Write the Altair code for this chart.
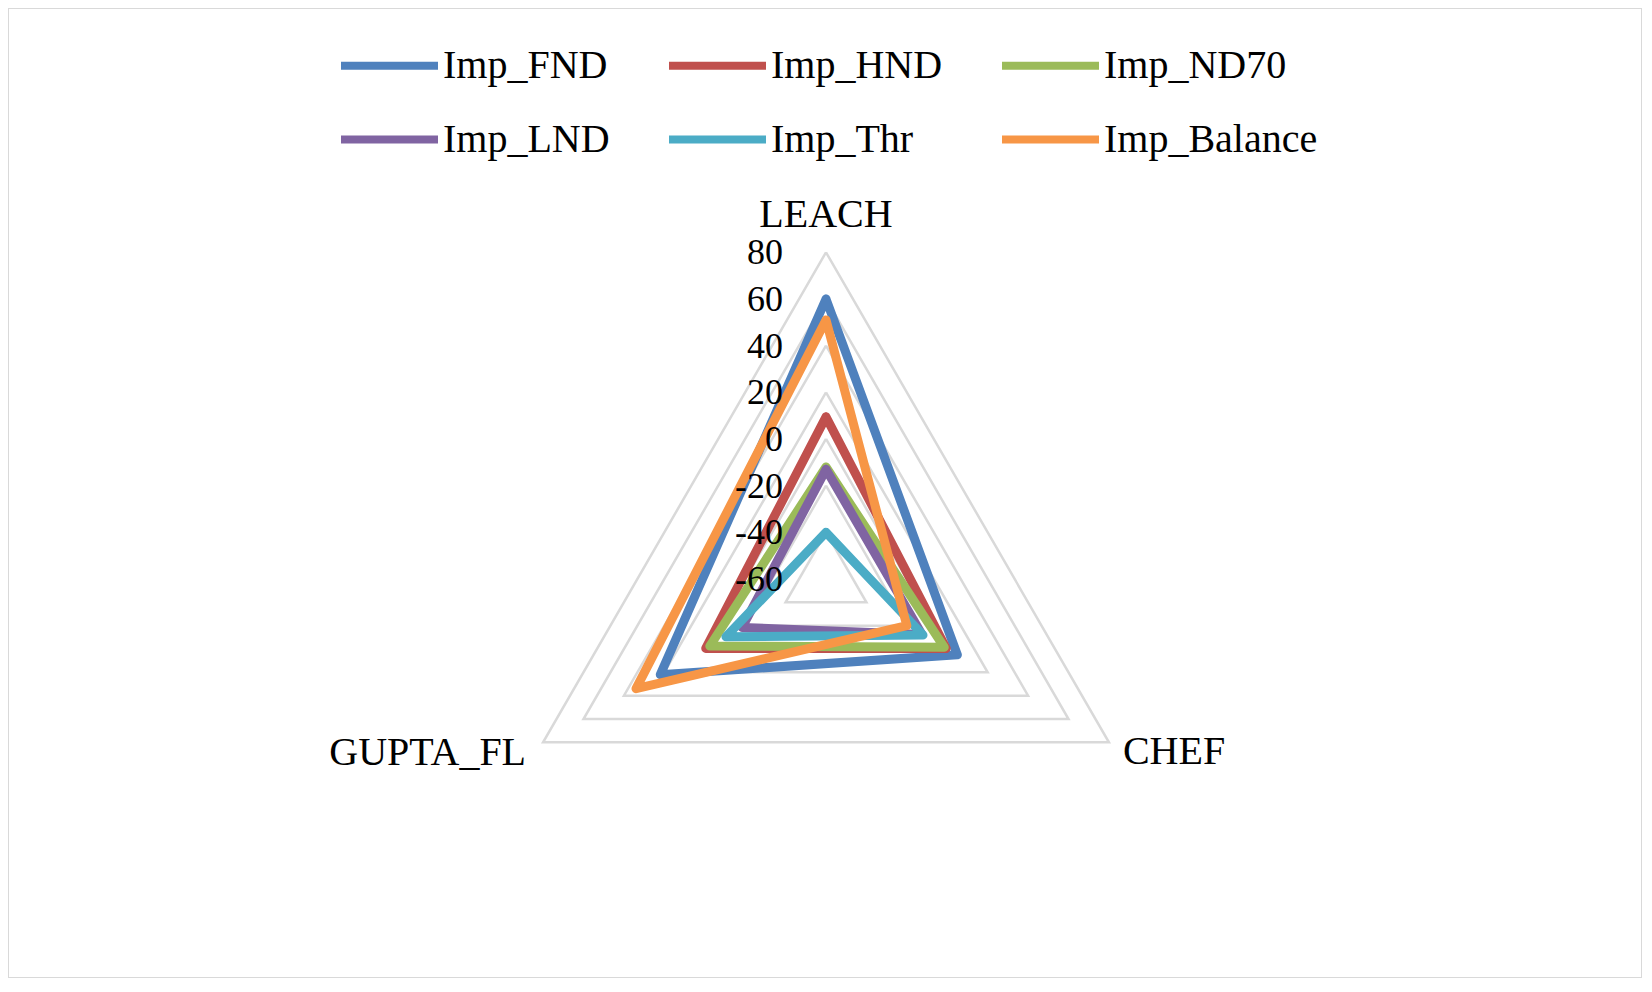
import math

import altair as alt
import pandas as pd

# radar axes, going round from the top
categories = ["LEACH", "CHEF", "GUPTA_FL"]
cat_angles = [90, -30, 210]

series = ["Imp_FND", "Imp_HND", "Imp_ND70", "Imp_LND", "Imp_Thr", "Imp_Balance"]
colors = ["#4F81BD", "#C0504D", "#9BBB59", "#8064A2", "#4BACC6", "#F79646"]

# values per axis: LEACH, CHEF, GUPTA_FL
imp_fnd = [60, 5, 22]
imp_hnd = [9.5, -0.5, -0.5]
imp_nd70 = [-12, -1.5, -2.5]
imp_lnd = [-13, -12.5, -18.5]
imp_thr = [-40, -12, -10.5]
imp_balance = [51, -20, 34]
values = [imp_fnd, imp_hnd, imp_nd70, imp_lnd, imp_thr, imp_balance]

tick_values = [-60, -40, -20, 0, 20, 40, 60, 80]
axis_min = -60
grid_levels = tick_values[1:]

FONT = "Times New Roman, Liberation Serif, serif"

# page layout (chart px), one data unit = PX px in both directions
W, H = 1634, 970
CX, CY = 818, 571
PX = 326.7 / (tick_values[-1] - axis_min)


def polar(v, angle):
    r = v - axis_min
    a = math.radians(angle)
    return r * math.cos(a), r * math.sin(a)


# closed polygons for the series
rows = []
for name, vals in zip(series, values):
    for i in range(len(categories) + 1):
        j = i % len(categories)
        x, y = polar(vals[j], cat_angles[j])
        rows.append({"series": name, "idx": i, "x": x, "y": y})
lines_df = pd.DataFrame(rows)

# grid triangles
grid_rows = []
for lev in grid_levels:
    for i in range(len(categories) + 1):
        j = i % len(categories)
        x, y = polar(lev, cat_angles[j])
        grid_rows.append({"level": lev, "idx": i, "x": x, "y": y})
grid_df = pd.DataFrame(grid_rows)

ticks_df = pd.DataFrame({"label": [str(t) for t in tick_values],
                         "x": [0.0] * len(tick_values),
                         "y": [t - axis_min for t in tick_values]})

cat_rows = []
for c, a in zip(categories, cat_angles):
    x, y = polar(tick_values[-1], a)
    cat_rows.append({"cat": c, "x": x, "y": y})
cats_df = pd.DataFrame(cat_rows)

xs = alt.Scale(domain=[-CX / PX, (W - CX) / PX])
ys = alt.Scale(domain=[-(H - CY) / PX, CY / PX])
X = alt.X("x:Q", scale=xs, axis=None)
Y = alt.Y("y:Q", scale=ys, axis=None)

grid = alt.Chart(grid_df).mark_line(color="#D9D9D9", strokeWidth=2.5).encode(
    X, Y, detail="level:N", order="idx:Q"
)

color = alt.Color(
    "series:N",
    scale=alt.Scale(domain=series, range=colors),
    title=None,
    legend=alt.Legend(
        orient="none", legendX=329, legendY=5, direction="horizontal",
        columns=3, symbolType="stroke", symbolSize=9409, symbolStrokeWidth=8,
        labelFont=FONT, labelFontSize=40, labelColor="black", labelOffset=1,
        labelLimit=0, columnPadding=43, rowPadding=1, padding=0,
    ),
)

series_layers = []
for name in series:
    series_layers.append(
        alt.Chart(lines_df).transform_filter(alt.datum.series == name)
        .mark_line(strokeWidth=9, strokeJoin="round", strokeCap="round")
        .encode(X, Y, color=color, order="idx:Q")
    )

tick_text = alt.Chart(ticks_df).mark_text(
    align="right", baseline="middle", dx=-43, dy=1, font=FONT, fontSize=36, color="black"
).encode(X, Y, text="label:N")

base_cat = alt.Chart(cats_df)
leach_lbl = base_cat.transform_filter(alt.datum.cat == "LEACH").mark_text(
    align="center", baseline="alphabetic", dy=-25, font=FONT, fontSize=40, color="black"
).encode(X, Y, text="cat:N")
chef_lbl = base_cat.transform_filter(alt.datum.cat == "CHEF").mark_text(
    align="left", baseline="alphabetic", dx=14, dy=22, font=FONT, fontSize=40, color="black"
).encode(X, Y, text="cat:N")
gupta_lbl = base_cat.transform_filter(alt.datum.cat == "GUPTA_FL").mark_text(
    align="right", baseline="alphabetic", dx=-17, dy=23, font=FONT, fontSize=40, color="black"
).encode(X, Y, text="cat:N")

chart = alt.layer(
    grid, *series_layers, tick_text, leach_lbl, chef_lbl, gupta_lbl
).properties(
    width=W, height=H, padding=0, autosize=alt.AutoSizeParams(type="none")
).configure_view(stroke="#D9D9D9", strokeWidth=2)

chart.save("out.html", embed_options={"renderer": "svg", "actions": False})
